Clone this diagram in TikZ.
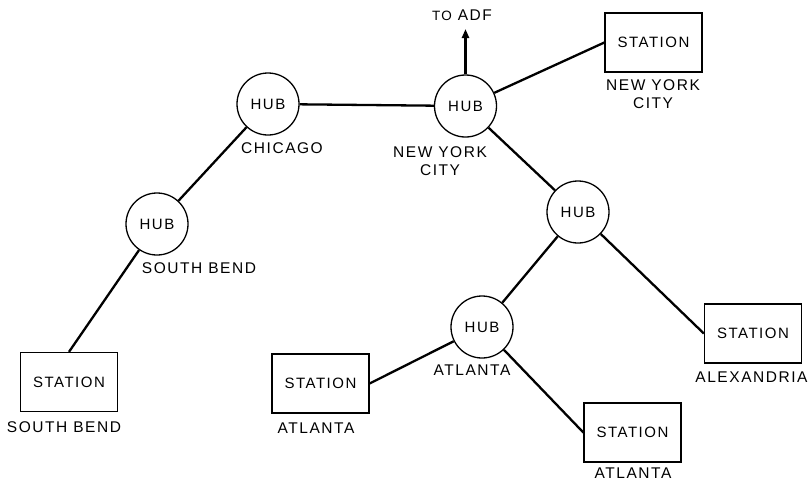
\documentclass[tikz,border=0pt]{standalone}
\usepackage{fontspec}
\setmainfont[LetterSpace=10]{Liberation Sans}
\usetikzlibrary{arrows.meta}
\tikzset{
  hub/.style={circle, draw, line width=1.3pt, minimum size=62pt, inner sep=0pt, font=\fontsize{15}{17}\selectfont},
  stationbox/.style={rectangle, draw, line width=1.3pt, minimum width=97pt, minimum height=59pt, inner sep=0pt, font=\fontsize{15}{17}\selectfont},
  lbl/.style={inner sep=0pt, align=center, font=\fontsize{15.5}{17.5}\selectfont},
  link/.style={line width=2.3pt},
}
\begin{document}
\begin{tikzpicture}[x=1pt, y=-1pt]
\useasboundingbox (0,0) rectangle (811,482);
% hubs
\node[hub] (hubCH) at (268,104) {HUB};
\node[hub] (hubNY) at (465.5,106) {HUB};
\node[hub] (hubSB) at (157,224) {HUB};
\node[hub] (hubX)  at (578,212) {HUB};
\node[hub] (hubAT) at (482,327) {HUB};
% stations
\node[stationbox] (stNY) at (653.5,42.5) {STATION};
\node[stationbox] (stSB) at (69,382) {STATION};
\node[stationbox] (stAT1) at (320.5,383.5) {STATION};
\node[stationbox] (stAT2) at (632.5,432.5) {STATION};
\node[stationbox] (stAX) at (753,333.5) {STATION};
% labels
\node[lbl] (lCH) at (282,148) {CHICAGO};
\node[lbl] (lNY) at (440,161) {NEW YORK\\CITY};
\node[lbl] (lstNY) at (653,94) {NEW YORK\\CITY};
\node[lbl] (lSB) at (199,268) {SOUTH BEND};
\node[lbl] (lstSB) at (64,427) {SOUTH BEND};
\node[lbl] (lAT) at (472,370) {ATLANTA};
\node[lbl] (lstAT1) at (316,428) {ATLANTA};
\node[lbl] (lstAT2) at (633,473) {ATLANTA};
\node[lbl] (lstAX) at (751.5,377) {ALEXANDRIA};
\node[lbl, anchor=base] (lADF) at (462,20.5) {{\fontsize{13.5}{15}\selectfont TO} ADF};
\coordinate (adf) at (465.5,29);
% connectors
\draw[link] (hubCH) -- (hubNY);
\draw[link] (hubCH) -- (hubSB);
\draw[link] (hubSB) -- (stSB.north);
\draw[link] (hubNY) -- (stNY.west);
\draw[link] (hubNY) -- (hubX);
\draw[link] (hubX) -- (hubAT);
\draw[link] (hubX) -- (stAX.west);
\draw[link] (hubAT) -- (stAT1.east);
\draw[link] (hubAT) -- (stAT2.west);
\draw[link, -{Triangle[length=9pt,width=7pt]}] (hubNY.north) -- (adf);
\end{tikzpicture}
\end{document}
